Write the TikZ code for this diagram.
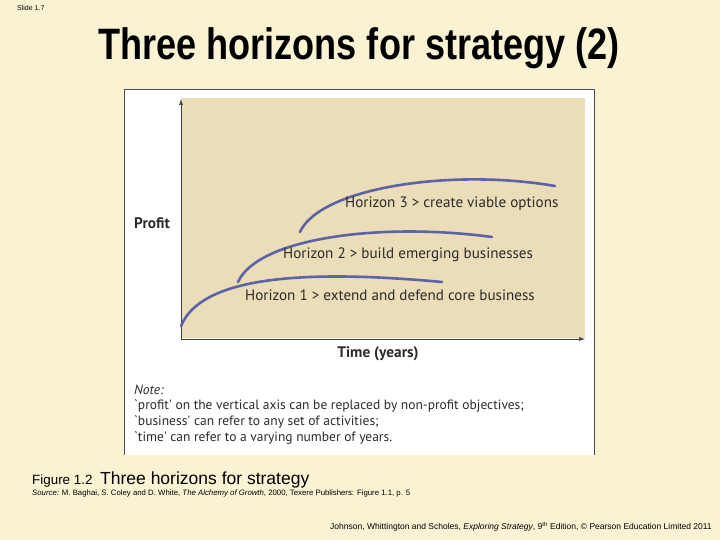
\documentclass[tikz,border=0pt]{standalone}
\usepackage{graphicx}
\usepackage{fontspec}
\setmainfont{Liberation Sans}
\newfontfamily\dinfont{PT Sans}
\definecolor{slidebg}{HTML}{FAF3D3}
\definecolor{plotbg}{HTML}{EADDB7}
\definecolor{curveblue}{HTML}{5C63A6}
\definecolor{txtdark}{HTML}{2B2B2B}
\usetikzlibrary{arrows.meta}
\begin{document}
\begin{tikzpicture}[x=1pt,y=-1pt,
  curve/.style={draw=curveblue,line width=2.6pt,line cap=round},
  lab/.style={anchor=west,inner sep=0pt,font=\dinfont\fontsize{15.1}{17}\selectfont,text=txtdark},
  axislab/.style={inner sep=0pt,font=\dinfont\bfseries\fontsize{15.3}{17}\selectfont,text=txtdark},
  notetxt/.style={anchor=west,inner sep=0pt,font=\dinfont\fontsize{13.5}{15}\selectfont,text=txtdark},
  axis/.style={draw=black!75,line width=0.6pt,-{Latex[length=6pt,width=4pt]}},
  small/.style={anchor=west,inner sep=0pt}]
\useasboundingbox (0,0) rectangle (720,540);
\fill[slidebg] (0,0) rectangle (720,540);
% figure box
\fill[white] (124,89) rectangle (594,455);
\draw[black!70,line width=0.8pt] (124,455) -- (124,89) -- (594,89) -- (594,455);
\fill[plotbg] (181,98) rectangle (585,338);
% axes
\coordinate (o) at (181,339);
\coordinate (ytip) at (181,99);
\coordinate (xtip) at (585,339);
\draw[axis] (o) -- (ytip);
\draw[axis] (o) -- (xtip);
% curves
\coordinate (h1s) at (181,326);
\coordinate (h1e) at (442,282);
\coordinate (h2s) at (238,282);
\coordinate (h2e) at (492,237);
\coordinate (h3s) at (300,232);
\coordinate (h3e) at (555,186);
\draw[curve] (h1s) .. controls (200,280) and (290,268) .. (h1e);
\draw[curve] (h2s) .. controls (258,238) and (380,222) .. (h2e);
\draw[curve] (h3s) .. controls (320,188) and (450,168) .. (h3e);
% labels
\node[lab] (l3) at (345,204) {Horizon 3 > create viable options};
\node[lab] (l2) at (283,255) {Horizon 2 > build emerging businesses};
\node[lab] (l1) at (245,295) {Horizon 1 > extend and defend core business};
\node[axislab,anchor=west] (py) at (134,223) {Profit};
\node[axislab] (tx) at (378,354) {Time (years)};
% note
\node[notetxt] (n0) at (134,390) {\itshape Note:};
\node[notetxt] (n1) at (134,406) {`profit' on the vertical axis can be replaced by non-profit objectives;};
\node[notetxt] (n2) at (134,422) {`business' can refer to any set of activities;};
\node[notetxt] (n3) at (134,438) {`time' can refer to a varying number of years.};
% slide texts
\node[anchor=west,inner sep=0pt,font=\fontsize{7}{8}\selectfont] (sl) at (17,8) {Slide 1.7};
\node[anchor=base,inner sep=0pt,font=\bfseries\fontsize{44}{48}\selectfont] (title) at (359,60) {\scalebox{0.82}[1]{Three horizons for strategy (2)}};
\node[anchor=base west,inner sep=0pt,font=\fontsize{13.4}{15}\selectfont] (fig) at (32,484) {Figure 1.2};
\node[anchor=base west,inner sep=0pt,font=\fontsize{17.5}{20}\selectfont] (figt) at (100,484) {Three horizons for strategy};
\node[small,font=\fontsize{7.8}{9}\selectfont] (src) at (32,493) {\textit{Source:} M. Baghai, S. Coley and D. White, \textit{The Alchemy of Growth}, 2000, Texere Publishers: Figure 1.1, p. 5};
\node[small,font=\fontsize{8.5}{10}\selectfont] (foot) at (330,527) {Johnson, Whittington and Scholes, \textit{Exploring Strategy}, 9\textsuperscript{th} Edition, © Pearson Education Limited 2011};
\end{tikzpicture}
\end{document}
